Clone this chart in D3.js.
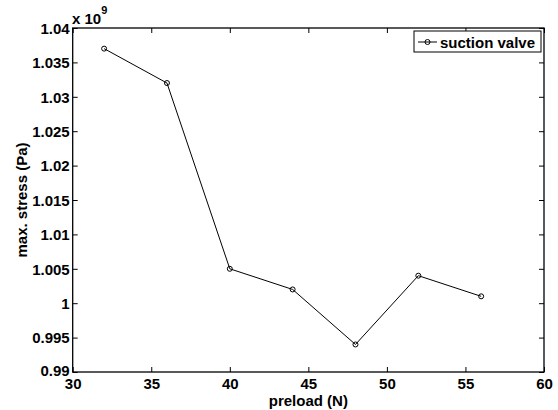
<!DOCTYPE html>
<html><head><meta charset="utf-8">
<script src="https://cdn.jsdelivr.net/npm/d3@7"></script>
<style>body{margin:0;background:#fff}</style>
</head><body>
<script>
const preload = [32, 36, 40, 44, 48, 52, 56];
const stress = [1.037, 1.032, 1.005, 1.002, 0.994, 1.004, 1.001];
const xTicks = [30, 35, 40, 45, 50, 55, 60];
const yTicks = [0.99, 0.995, 1, 1.005, 1.01, 1.015, 1.02, 1.025, 1.03, 1.035, 1.04];
const seriesName = "suction valve";

const W = 558, H = 410;
const m = {l: 72.7, r: 558 - 544, t: 28, b: 410 - 372};
const font = "'Liberation Sans', Arial, sans-serif";
const svg = d3.select("body").append("svg").attr("width", W).attr("height", H)
  .style("font-family", font).style("font-weight", "bold");

const x = d3.scaleLinear().domain([30, 60]).range([m.l, W - m.r]);
const y = d3.scaleLinear().domain([0.99, 1.04]).range([H - m.b, m.t]);

const tl = 5;
const gx = svg.append("g").attr("transform", `translate(0,${H - m.b})`)
  .call(d3.axisBottom(x).tickValues(xTicks).tickSizeInner(-tl).tickSizeOuter(0).tickPadding(6));
const gxt = svg.append("g").attr("transform", `translate(0,${m.t})`)
  .call(d3.axisTop(x).tickValues(xTicks).tickSizeInner(-tl).tickSizeOuter(0).tickFormat(""));
const gy = svg.append("g").attr("transform", `translate(${m.l},0)`)
  .call(d3.axisLeft(y).tickValues(yTicks).tickSizeInner(-tl).tickSizeOuter(0).tickPadding(3)
    .tickFormat(d => d3.format("")(+d.toFixed(3))));
const gyr = svg.append("g").attr("transform", `translate(${W - m.r},0)`)
  .call(d3.axisRight(y).tickValues(yTicks).tickSizeInner(-tl).tickSizeOuter(0).tickFormat(""));

[gx, gxt, gy, gyr].forEach(g => {
  g.attr("font-family", null).attr("font-size", null);
  g.selectAll(".domain").remove();
  g.selectAll(".tick line").attr("stroke", "#000").attr("stroke-width", 1);
  g.selectAll(".tick text").attr("fill", "#000").style("font-size", "15px")
    .style("font-family", font).style("font-weight", "bold");
});
gx.selectAll(".tick text").attr("dy", "0.71em");
gy.selectAll(".tick text").attr("dy", d => d === 0.99 ? "0.2em" : "0.35em");

svg.append("rect").attr("x", m.l).attr("y", m.t)
  .attr("width", W - m.r - m.l).attr("height", H - m.b - m.t)
  .attr("fill", "none").attr("stroke", "#000").attr("stroke-width", 1.3);

const ex = svg.append("text").attr("x", 72).attr("y", 24).attr("fill", "#000").style("font-size", "15px");
ex.append("tspan").text("x 10");
ex.append("tspan").attr("dy", -10).style("font-size", "11px").text("9");

const line = d3.line().x((d, i) => x(preload[i])).y(d => y(d));
svg.append("path").datum(stress).attr("d", line).attr("fill", "none")
  .attr("stroke", "#000").attr("stroke-width", 1);
svg.selectAll("circle.pt").data(stress).enter().append("circle").attr("class", "pt")
  .attr("cx", (d, i) => x(preload[i])).attr("cy", d => y(d)).attr("r", 2.5)
  .attr("fill", "none").attr("stroke", "#000").attr("stroke-width", 1);

svg.append("text").attr("x", (m.l + W - m.r) / 2).attr("y", 405.5).attr("text-anchor", "middle")
  .attr("fill", "#000").style("font-size", "15px").text("preload (N)");
svg.append("text").attr("transform", `translate(27,${(m.t + H - m.b) / 2}) rotate(-90)`)
  .attr("text-anchor", "middle").attr("fill", "#000").style("font-size", "15px").text("max. stress (Pa)");

const lg = svg.append("g");
lg.append("rect").attr("x", 414).attr("y", 31).attr("width", 127).attr("height", 21)
  .attr("fill", "#fff").attr("stroke", "#000").attr("stroke-width", 1);
lg.append("line").attr("x1", 418).attr("x2", 437).attr("y1", 42).attr("y2", 42)
  .attr("stroke", "#000").attr("stroke-width", 1);
lg.append("circle").attr("cx", 427.5).attr("cy", 42).attr("r", 2.5)
  .attr("fill", "none").attr("stroke", "#000").attr("stroke-width", 1);
lg.append("text").attr("x", 440).attr("y", 47.5).attr("fill", "#000").style("font-size", "15px").text(seriesName);
</script>
</body></html>
